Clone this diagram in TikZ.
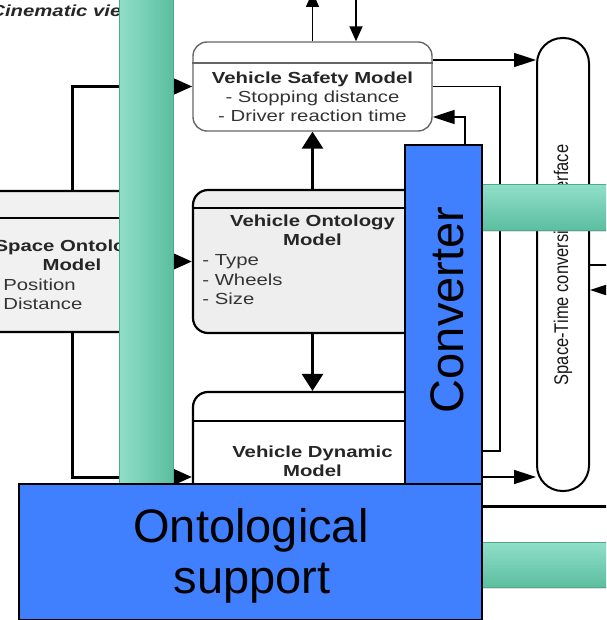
\documentclass[tikz,border=0pt]{standalone}
\usepackage{fontspec}
\setsansfont{Liberation Sans}
\usetikzlibrary{arrows.meta,calc,shadows}

\definecolor{convblue}{HTML}{4080FF}
\definecolor{tealtop}{HTML}{90DFC8}
\definecolor{tealbot}{HTML}{5CBE9F}
\definecolor{tealrim}{HTML}{4DAA8B}
\definecolor{boxgray}{HTML}{EEEEEE}

\tikzset{
	modelbox/.style={draw=black, line width=2.2pt, rounded corners=15pt, fill=boxgray},
	safetybox/.style={draw=black!60, line width=1.4pt, rounded corners=14pt, fill=white},
	pill/.style={draw=black, line width=2pt, rounded corners=25.5pt, fill=white},
	tealbar/.style={draw=tealrim, line width=1pt, drop shadow={shadow xshift=1pt, shadow yshift=-2pt, opacity=0.25}},
	bluebox/.style={draw=black, line width=1.5pt, fill=convblue},
	titletext/.style={anchor=base, inner sep=0pt, xscale=1.27, text=black!85, font=\sffamily\bfseries\fontsize{16}{19}\selectfont},
	notetext/.style={anchor=base, inner sep=0pt, xscale=1.27, text=black!80, font=\sffamily\fontsize{16}{19}\selectfont},
	itemtext/.style={notetext, anchor=base west},
	bigtext/.style={anchor=base, inner sep=0pt, text=black, font=\sffamily\fontsize{47}{52}\selectfont},
	thickh/.style={line width=3pt, -{Triangle[length=20pt, width=17pt]}},
	thickv/.style={line width=3pt, -{Triangle[length=17pt, width=21pt]}},
	thinh/.style={line width=1.6pt, -{Triangle[length=22pt, width=14pt]}},
	thinv/.style={line width=1.6pt, -{Triangle[length=15pt, width=13pt]}},
	thinline/.style={line width=1.6pt}
}

\newcommand{\titleline}[4]{
	\node[titletext] (#1) at (#2, #3) {#4};
}
\newcommand{\itemline}[4]{
	\node[itemtext] (#1) at (#2, #3) {#4};
}

\begin{document}
\begin{tikzpicture}[x=1pt,y=-1pt,>=latex,font=\sffamily,semithick]
	\useasboundingbox (0,0) rectangle (606,620);
	\clip (0,0) rectangle (606,620);

	\node[itemtext, text=black!85, font=\sffamily\bfseries\itshape\fontsize{16}{19}\selectfont] (viewname) at (-10,17) {Cinematic view};

	\node[safetybox, minimum width=239pt, minimum height=89pt] (safety) at (312.5,86.5) {};
	\node[modelbox, minimum width=239pt, minimum height=143pt] (onto) at (312.5,261.5) {};
	\node[modelbox, fill=white, minimum width=239pt, minimum height=170pt] (dyn) at (312.5,477) {};
	\node[modelbox, fill=boxgray!85, minimum width=186pt, minimum height=141pt] (space) at (72,261.5) {};
	\node[pill, minimum width=52pt, minimum height=453pt] (sti) at (563,264.5) {};

	\coordinate (safetySep) at (0,63);
	\draw[draw=black!60, line width=1.4pt] (safetySep -| safety.west) -- (safetySep -| safety.east);
	\coordinate (ontoSep) at (0,208);
	\draw[line width=2.2pt] (ontoSep -| onto.west) -- (ontoSep -| onto.east);
	\coordinate (dynSep) at (0,421);
	\draw[line width=2.2pt] (dynSep -| dyn.west) -- (dynSep -| dyn.east);
	\coordinate (spaceSep) at (0,218);
	\draw[line width=2.2pt] (spaceSep -| space.west) -- (spaceSep -| space.east);

	\titleline{safetyname}{312.5}{83.5}{Vehicle Safety Model}
	\node[notetext] (stopping) at (312.5,102.7) {- Stopping distance};
	\node[notetext] (reaction) at (312.5,121.7) {- Driver reaction time};

	\titleline{ontoname}{312.5}{226.7}{Vehicle Ontology}
	\titleline{ontomodel}{312.5}{245.7}{Model}
	\itemline{type}{202}{265}{- Type}
	\itemline{wheels}{202}{285}{- Wheels}
	\itemline{size}{202}{304}{- Size}

	\titleline{spacename}{72}{251.7}{Space Ontology}
	\titleline{spacemodel}{72}{270.7}{Model}
	\itemline{position}{-9.4}{290}{- Position}
	\itemline{distance}{-9.4}{309}{- Distance}

	\titleline{dynname}{312.5}{457.3}{Vehicle Dynamic}
	\titleline{dynmodel}{312.5}{476}{Model}

	\node[rotate=90, yscale=1.2, anchor=base, inner sep=0pt, text=black!90, font=\sffamily\fontsize{16.5}{19}\selectfont] (stiname) at (568,265) {Space-Time conversion interface};

	\draw[thickh] (space.north) |- (safety.west);
	\draw[thickh] (space.east) -- (onto.west);
	\draw[thickh] (space.south) |- (dyn.west);
	\draw[thickv] (onto.north) -- (safety.south);
	\draw[thickv] (onto.south) -- (dyn.north);

	\coordinate (topOut) at (312.5,-8);
	\draw[thinv] (safety.north) -- (topOut);
	\coordinate (topIn) at (356,-8);
	\draw[thinv] (topIn) -- (topIn |- safety.north);

	\coordinate (rowA) at (0,60);
	\draw[thinh] (rowA -| safety.east) -- (rowA -| sti.west);
	\coordinate (backTurn) at (500,451);
	\coordinate (backEnd) at (470,451);
	\draw[thinline] (safety.east) -| (backTurn) -- (backEnd);
	\coordinate (feedStart) at (465,170);
	\coordinate (rowB) at (0,117);
	\draw[thinh] (feedStart) |- (rowB -| safety.east);
	\coordinate (sideOut) at (615,265);
	\draw[thinline] (sideOut -| sti.east) -- (sideOut);
	\coordinate (sideIn) at (615,290);
	\draw[thinh] (sideIn) -- (sideIn -| sti.east);
	\coordinate (convOut) at (470,477);
	\draw[thinh] (convOut) -- (convOut -| sti.west);
	\coordinate (frameL) at (470,506);
	\coordinate (frameR) at (615,506);
	\draw[line width=3pt] (frameL) -- (frameR);

	\node[tealbar, left color=tealtop, right color=tealbot, minimum width=54pt, minimum height=500pt] (leftbar) at (146,233) {};
	\node[tealbar, top color=tealtop, bottom color=tealbot, minimum width=150pt, minimum height=45pt] (upperbar) at (556,207.5) {};
	\node[tealbar, top color=tealtop, bottom color=tealbot, minimum width=150pt, minimum height=45pt] (lowerbar) at (556,564.5) {};

	\node[bluebox, minimum width=77pt, minimum height=339pt] (converter) at (443.5,314.5) {};
	\node[bluebox, minimum width=463pt, minimum height=136pt] (support) at (250.5,552) {};
	\node[bigtext, rotate=90] (convname) at (463,310) {Converter};
	\node[bigtext] (supportA) at (251,542) {Ontological};
	\node[bigtext] (supportB) at (252,593) {support};
\end{tikzpicture}
\end{document}
